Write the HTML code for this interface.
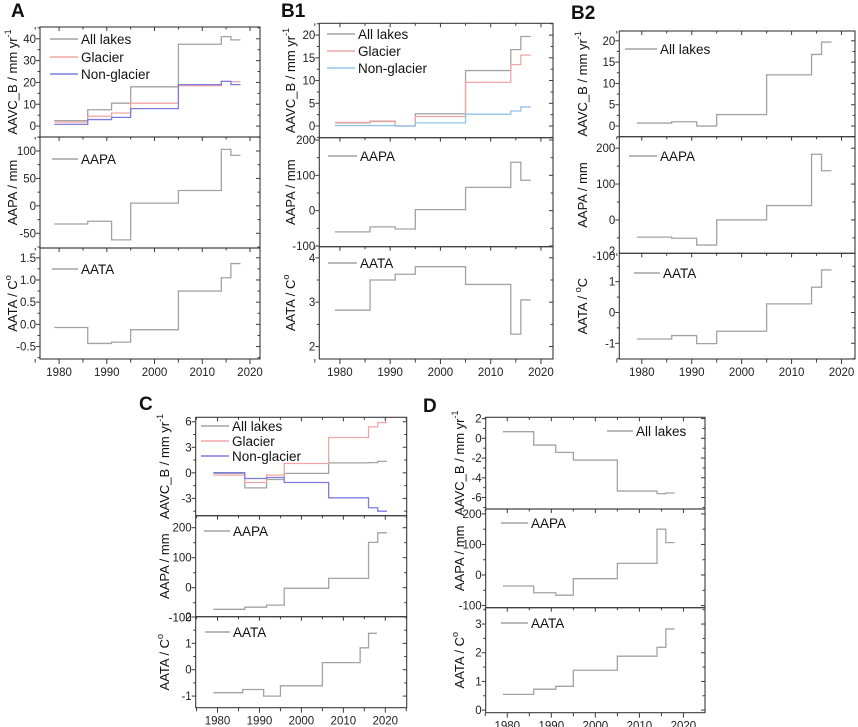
<!DOCTYPE html>
<html><head><meta charset="utf-8"><style>
html,body{margin:0;padding:0;background:#fff;}
svg{display:block;font-family:"Liberation Sans",Arial,sans-serif;}
</style></head><body>
<svg id="fig" width="858" height="727" viewBox="0 0 858 727" xmlns="http://www.w3.org/2000/svg"></svg>
<script>
// ---------- DATA ----------
const xTickYears = [1980, 1990, 2000, 2010, 2020];
const stdYears = [1979, 1986, 1991, 1995, 2005, 2014, 2016, 2018];
const cShiftYears = [1979, 1986.5, 1991.7, 1995.9, 2006.5, 2016, 2018.2, 2020.4];

const A_all = [2.5, 7.5, 10.5, 18, 37.5, 41, 39.5];
const A_glacier = [1.8, 4.5, 6, 10.5, 18.5, 20.5, 20.3];
const A_nonglacier = [0.8, 3, 4, 8, 19, 20.5, 19];
const A_aapa = [-33, -28, -62, 5, 28, 103, 92];
const A_aata = [-0.07, -0.43, -0.4, -0.12, 0.75, 1.05, 1.37];

const B1_all = [0.7, 1.0, 0.0, 2.7, 12.2, 16.8, 19.7];
const B1_glacier = [0.8, 1.1, 0.0, 2.1, 9.6, 13.5, 15.6];
const B1_nonglacier = [0.1, 0.1, 0.0, 0.7, 2.6, 3.3, 4.2];
const B1_aapa = [-60, -46, -52, 3, 66, 137, 86];
const B1_aata = [2.82, 3.5, 3.63, 3.8, 3.4, 2.28, 3.05];

const B2_all = [0.7, 1.0, 0.0, 2.7, 12.0, 16.8, 19.7];
const B2_aapa = [-48, -51, -70, 0, 40, 183, 137];
const B2_aata = [-0.86, -0.75, -1.01, -0.61, 0.28, 0.82, 1.38];

const C_all = [-0.06, -1.76, -0.78, -0.06, 1.17, 1.2, 1.35];
const C_glacier = [-0.27, -1.13, -0.27, 1.1, 4.15, 5.4, 5.9];
const C_nonglacier = [0.03, -0.66, -0.55, -1.13, -2.93, -4.1, -4.5];
const C_aapa = [-72, -65, -58, -2, 31, 151, 183];
const C_aata = [-0.87, -0.75, -1.0, -0.61, 0.27, 0.83, 1.38];

const D_all = [0.67, -0.68, -1.42, -2.2, -5.34, -5.6, -5.54];
const D_aapa = [-36, -58, -66, -12, 38, 150, 106];
const D_aata = [0.55, 0.73, 0.83, 1.39, 1.88, 2.19, 2.83];

// ---------- STYLE ----------
const GRAY = '#a3a3a3', RED = '#f2a6a6', BLUE = '#7d7de0', LBLUE = '#93c3ea', FRAME = '#3a3a3a';
const NS = 'http://www.w3.org/2000/svg';
const svg = document.getElementById('fig');

function mk(tag, attrs, parent) {
  const e = document.createElementNS(NS, tag);
  for (const k in attrs) e.setAttribute(k, attrs[k]);
  (parent || svg).appendChild(e);
  return e;
}
function lin(d0, d1, r0, r1) { return v => r0 + (v - d0) / (d1 - d0) * (r1 - r0); }

function stepPath(years, vals, xs, ys) {
  let d = 'M' + xs(years[0]).toFixed(2) + ',' + ys(vals[0]).toFixed(2);
  for (let i = 0; i < vals.length; i++) {
    d += ' H' + xs(years[i + 1]).toFixed(2);
    if (i + 1 < vals.length) d += ' V' + ys(vals[i + 1]).toFixed(2);
  }
  return d;
}

function fmt(v, dec) { return (Math.abs(v) < 1e-9 ? 0 : v).toFixed(dec); }

function drawPanel(p) {
  const g = mk('g', {});
  
  
  const lbl = mk('text', {x: p.labelX, y: p.labelY, 'font-size': 19, 'font-weight': 'bold', fill: '#111'}, g);
  lbl.textContent = p.id;
  
  
  const xs = lin(p.xDom[0], p.xDom[1], p.left, p.right);

  p.subs.forEach((s, si) => {
    const top = p.tops[si], bot = p.tops[si + 1];
    const ys = lin(s.dom[0], s.dom[1], bot, top);
    const sg = mk('g', {}, g);
    
    
    const span = s.dom[1] - s.dom[0];
    const startMinor = Math.ceil(s.dom[0] / s.minor - 1e-9) * s.minor;
    for (let v = startMinor; v <= s.dom[1] + 1e-9; v += s.minor) {
      const y = ys(v);
      const isMajor = Math.abs(v / s.major - Math.round(v / s.major)) < 1e-6;
      const L = isMajor ? 4 : 2.5;
      const t1 = mk('line', {x1: p.left - L, x2: p.left, y1: y, y2: y, stroke: FRAME, 'stroke-width': 1}, sg);
      
      
      const t2 = mk('line', {x1: p.right - L, x2: p.right, y1: y, y2: y, stroke: FRAME, 'stroke-width': 1}, sg);
      
      
    }
    const startMaj = Math.ceil((s.dom[0] - span * 0.05) / s.major - 1e-9) * s.major;
    for (let v = startMaj; v <= s.dom[1] + span * 0.05; v += s.major) {
      const tl = mk('text', {x: p.left - 4, y: ys(v) + 4, 'font-size': 11.5, 'text-anchor': 'end', fill: '#222'}, sg);
      tl.textContent = fmt(v, s.dec);
      
      
    }
    for (let yr = 1975; yr <= p.xDom[1]; yr += 5) {
      const x = xs(yr);
      const major = yr % 10 === 0;
      const L = major ? 4 : 2.5;
      const tt = mk('line', {x1: x, x2: x, y1: top, y2: top + L, stroke: FRAME, 'stroke-width': 1}, sg);
      
      
      if (si === 2) {
        const tb = mk('line', {x1: x, x2: x, y1: bot, y2: bot + L + 1, stroke: FRAME, 'stroke-width': 1}, sg);
        
        
      }
    }
    s.series.forEach(se => {
      const path = mk('path', {d: stepPath(se.years, se.vals, xs, ys), fill: 'none', stroke: se.color, 'stroke-width': 1.3}, sg);
      
      
    });
    const fr = mk('rect', {x: p.left, y: top, width: p.right - p.left, height: bot - top, fill: 'none', stroke: FRAME, 'stroke-width': 1.1}, sg);
    
    
    s.legend.forEach(le => {
      const ll = mk('line', {x1: le.x1, x2: le.x2, y1: le.y, y2: le.y, stroke: le.color, 'stroke-width': 1.4}, sg);
      
      
      const lt = mk('text', {x: le.x2 + 3, y: le.y + 5, 'font-size': 13.5, fill: '#111'}, sg);
      lt.textContent = le.text;
      
      
    });
    const cy = (top + bot) / 2;
    const at = mk('text', {x: 0, y: 0, 'font-size': 13, 'text-anchor': 'middle', fill: '#111',
      transform: 'translate(' + p.titleX + ',' + cy + ') rotate(-90)'}, sg);
    
    
    s.title.forEach(part => {
      const ts = mk('tspan', part.sup ? {'font-size': 9, dy: -6} : {dy: part.down ? 6 : 0}, at);
      ts.textContent = part.t;
    });
  });
  const by = p.tops[3];
  xTickYears.forEach(yr => {
    const xl = mk('text', {x: xs(yr), y: by + 17, 'font-size': 11.5, 'text-anchor': 'middle', fill: '#222'}, g);
    xl.textContent = yr;
    
    
  });
}

const tAAVC = [{t: 'AAVC_B / mm yr'}, {t: '-1', sup: true}];
const tAAPA = [{t: 'AAPA / mm'}];
const tAATA = [{t: 'AATA / C'}, {t: 'o', sup: true}];
const tAATA2 = [{t: 'AATA / '}, {t: 'o', sup: true}, {t: 'C', down: true}];

const panels = [
  {id: 'A', labelX: 11, labelY: 17, left: 40, right: 260, tops: [27, 137, 248, 359], xDom: [1976, 2022.1], titleX: 17,
   subs: [
    {name: 'aavc-plot-a', dom: [-5, 45.4], major: 10, minor: 5, dec: 0, title: tAAVC,
     series: [{name: 'all-lakes-line', years: stdYears, vals: A_all, color: GRAY},
              {name: 'glacier-line', years: stdYears, vals: A_glacier, color: RED},
              {name: 'non-glacier-line', years: stdYears, vals: A_nonglacier, color: BLUE}],
     legend: [{x1: 50, x2: 78, y: 39, text: 'All lakes', color: GRAY},
              {x1: 50, x2: 78, y: 57, text: 'Glacier', color: RED},
              {x1: 50, x2: 78, y: 74, text: 'Non-glacier', color: BLUE}]},
    {name: 'aapa-plot-a', dom: [-76.8, 125.5], major: 50, minor: 25, dec: 0, title: tAAPA,
     series: [{name: 'aapa-line', years: stdYears, vals: A_aapa, color: GRAY}],
     legend: [{x1: 52, x2: 78, y: 159, text: 'AAPA', color: GRAY}]},
    {name: 'aata-plot-a', dom: [-0.78, 1.72], major: 0.5, minor: 0.25, dec: 1, title: tAATA,
     series: [{name: 'aata-line', years: stdYears, vals: A_aata, color: GRAY}],
     legend: [{x1: 52, x2: 78, y: 269, text: 'AATA', color: GRAY}]}]},
  {id: 'B1', labelX: 281, labelY: 17, left: 319.3, right: 553, tops: [23.3, 137.7, 246.7, 359], xDom: [1975.9, 2022.4], titleX: 295,
   subs: [
    {name: 'aavc-plot-b1', dom: [-2.57, 22.6], major: 5, minor: 2.5, dec: 0, title: tAAVC,
     series: [{name: 'all-lakes-line', years: stdYears, vals: B1_all, color: GRAY},
              {name: 'glacier-line', years: stdYears, vals: B1_glacier, color: RED},
              {name: 'non-glacier-line', years: stdYears, vals: B1_nonglacier, color: LBLUE}],
     legend: [{x1: 327, x2: 355, y: 34, text: 'All lakes', color: GRAY},
              {x1: 327, x2: 355, y: 51, text: 'Glacier', color: RED},
              {x1: 327, x2: 355, y: 68, text: 'Non-glacier', color: LBLUE}]},
    {name: 'aapa-plot-b1', dom: [-102, 206.5], major: 100, minor: 50, dec: 0, title: tAAPA,
     series: [{name: 'aapa-line', years: stdYears, vals: B1_aapa, color: GRAY}],
     legend: [{x1: 328, x2: 357, y: 156, text: 'AAPA', color: GRAY}]},
    {name: 'aata-plot-b1', dom: [1.72, 4.25], major: 1, minor: 0.5, dec: 0, title: tAATA,
     series: [{name: 'aata-line', years: stdYears, vals: B1_aata, color: GRAY}],
     legend: [{x1: 328, x2: 357, y: 263, text: 'AATA', color: GRAY}]}]},
  {id: 'B2', labelX: 571, labelY: 19, left: 619.3, right: 855, tops: [31, 136.7, 253.3, 359], xDom: [1975.5, 2022.7], titleX: 587,
   subs: [
    {name: 'aavc-plot-b2', dom: [-2.5, 22.3], major: 5, minor: 2.5, dec: 0, title: tAAVC,
     series: [{name: 'all-lakes-line', years: stdYears, vals: B2_all, color: GRAY}],
     legend: [{x1: 625, x2: 657, y: 49, text: 'All lakes', color: GRAY}]},
    {name: 'aapa-plot-b2', dom: [-93, 232], major: 100, minor: 50, dec: 0, title: tAAPA,
     series: [{name: 'aapa-line', years: stdYears, vals: B2_aapa, color: GRAY}],
     legend: [{x1: 629, x2: 657, y: 156, text: 'AAPA', color: GRAY}]},
    {name: 'aata-plot-b2', dom: [-1.51, 1.92], major: 1, minor: 0.5, dec: 0, title: tAATA2,
     series: [{name: 'aata-line', years: stdYears, vals: B2_aata, color: GRAY}],
     legend: [{x1: 634, x2: 660, y: 273, text: 'AATA', color: GRAY}]}]},
  {id: 'C', labelX: 139, labelY: 410, left: 195.7, right: 406.7, tops: [417.3, 515.7, 616.7, 707.7], xDom: [1974.8, 2025.1], titleX: 169,
   subs: [
    {name: 'aavc-plot-c', dom: [-5.03, 6.52], major: 3, minor: 1.5, dec: 0, title: tAAVC,
     series: [{name: 'all-lakes-line', years: cShiftYears, vals: C_all, color: GRAY},
              {name: 'glacier-line', years: cShiftYears, vals: C_glacier, color: RED},
              {name: 'non-glacier-line', years: cShiftYears, vals: C_nonglacier, color: BLUE}],
     legend: [{x1: 201, x2: 229, y: 426, text: 'All lakes', color: GRAY},
              {x1: 201, x2: 229, y: 441, text: 'Glacier', color: RED},
              {x1: 201, x2: 229, y: 456, text: 'Non-glacier', color: BLUE}]},
    {name: 'aapa-plot-c', dom: [-96.7, 240], major: 100, minor: 50, dec: 0, title: tAAPA,
     series: [{name: 'aapa-line', years: cShiftYears, vals: C_aapa, color: GRAY}],
     legend: [{x1: 204, x2: 230, y: 531, text: 'AAPA', color: GRAY}]},
    {name: 'aata-plot-c', dom: [-1.44, 2.01], major: 1, minor: 0.5, dec: 0, title: tAATA,
     series: [{name: 'aata-line', years: stdYears, vals: C_aata, color: GRAY}],
     legend: [{x1: 205, x2: 230, y: 632, text: 'AATA', color: GRAY}]}]},
  {id: 'D', labelX: 423, labelY: 412, left: 485.7, right: 705, tops: [417.3, 509, 607.7, 712.7], xDom: [1975.1, 2024.9], titleX: 464,
   subs: [
    {name: 'aavc-plot-d', dom: [-7.16, 2.13], major: 2, minor: 1, dec: 0, title: tAAVC,
     series: [{name: 'all-lakes-line', years: stdYears, vals: D_all, color: GRAY}],
     legend: [{x1: 607, x2: 633, y: 431, text: 'All lakes', color: GRAY}]},
    {name: 'aapa-plot-d', dom: [-107, 216], major: 100, minor: 50, dec: 0, title: tAAPA,
     series: [{name: 'aapa-line', years: stdYears, vals: D_aapa, color: GRAY}],
     legend: [{x1: 501, x2: 528, y: 523, text: 'AAPA', color: GRAY}]},
    {name: 'aata-plot-d', dom: [-0.09, 3.57], major: 1, minor: 0.5, dec: 0, title: tAATA,
     series: [{name: 'aata-line', years: stdYears, vals: D_aata, color: GRAY}],
     legend: [{x1: 501, x2: 528, y: 623, text: 'AATA', color: GRAY}]}]}
];
panels.forEach(drawPanel);
</script>
</body></html>
